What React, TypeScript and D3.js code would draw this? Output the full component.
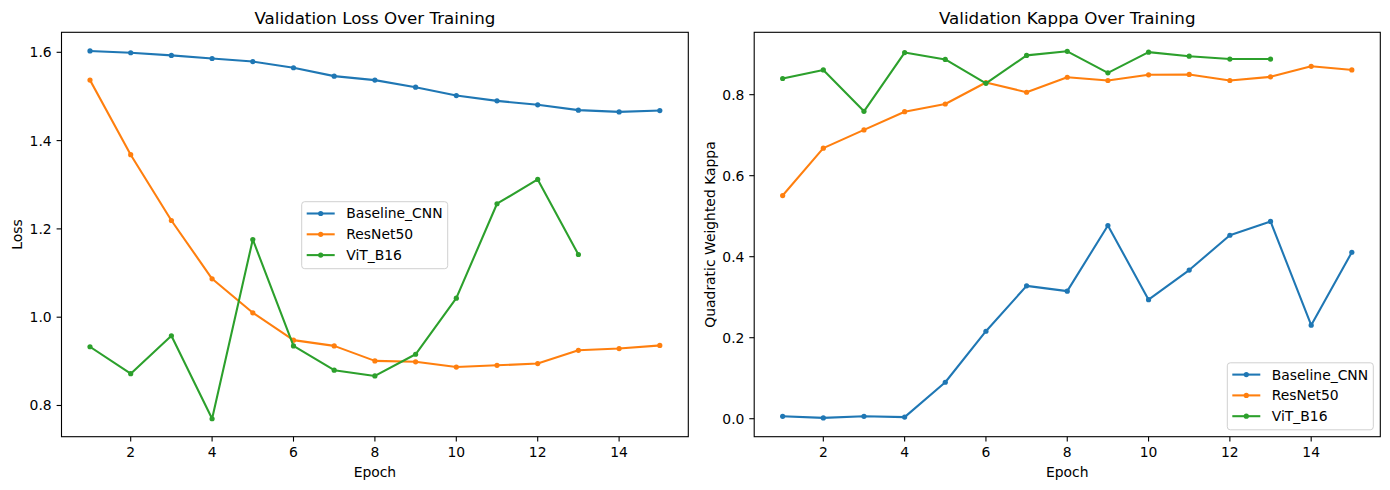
import * as d3 from "d3";
import { useEffect, useRef } from "react";

const epochs = d3.range(1, 16);

const lossBaseline = [1.603, 1.599, 1.593, 1.586, 1.579, 1.565, 1.546, 1.537, 1.521, 1.502, 1.490, 1.481, 1.469, 1.465, 1.468];
const lossResNet = [1.537, 1.368, 1.219, 1.087, 1.010, 0.948, 0.935, 0.901, 0.899, 0.887, 0.891, 0.895, 0.925, 0.929, 0.936];
const lossViT = [0.933, 0.872, 0.958, 0.770, 1.176, 0.935, 0.880, 0.867, 0.916, 1.043, 1.257, 1.312, 1.142];

const kappaBaseline = [0.006, 0.002, 0.006, 0.004, 0.090, 0.216, 0.328, 0.315, 0.477, 0.294, 0.367, 0.453, 0.487, 0.231, 0.411];
const kappaResNet = [0.551, 0.668, 0.713, 0.758, 0.777, 0.830, 0.806, 0.843, 0.835, 0.849, 0.850, 0.835, 0.844, 0.870, 0.861];
const kappaViT = [0.840, 0.861, 0.759, 0.904, 0.887, 0.828, 0.897, 0.907, 0.854, 0.905, 0.895, 0.888, 0.888];

const seriesNames = ["Baseline_CNN", "ResNet50", "ViT_B16"];
const colors = ["#1f77b4", "#ff7f0e", "#2ca02c"];

const lossTicks = [0.8, 1.0, 1.2, 1.4, 1.6];
const kappaTicks = [0.0, 0.2, 0.4, 0.6, 0.8];
const epochTicks = [2, 4, 6, 8, 10, 12, 14];

const W = 1390;
const H = 490;
const FONT = "DejaVu Sans, sans-serif";

interface PanelSpec {
  left: number;
  right: number;
  top: number;
  bottom: number;
  yDomain: [number, number];
  yTicks: number[];
  series: number[][];
  title: string;
  yLabel: string;
  yLabelX: number;
  legend: { x: number; y: number };
}

function drawPanel(svg: d3.Selection<SVGSVGElement, unknown, null, undefined>, p: PanelSpec) {
  const x = d3.scaleLinear().domain([0.3, 15.7]).range([p.left, p.right]);
  const y = d3.scaleLinear().domain(p.yDomain).range([p.bottom, p.top]);
  const g = svg.append("g");

  // lines and markers
  p.series.forEach((vals, i) => {
    const pts = vals.map((v, j) => [epochs[j], v] as [number, number]);
    const line = d3
      .line<[number, number]>()
      .x((d) => x(d[0]))
      .y((d) => y(d[1]));
    g.append("path")
      .attr("d", line(pts))
      .attr("fill", "none")
      .attr("stroke", colors[i])
      .attr("stroke-width", 2.08)
      .attr("stroke-linejoin", "round")
      .attr("stroke-linecap", "square");
    g.selectAll(null)
      .data(pts)
      .join("circle")
      .attr("cx", (d) => x(d[0]))
      .attr("cy", (d) => y(d[1]))
      .attr("r", 2.6)
      .attr("fill", colors[i]);
  });

  // frame
  g.append("rect")
    .attr("x", p.left)
    .attr("y", p.top)
    .attr("width", p.right - p.left)
    .attr("height", p.bottom - p.top)
    .attr("fill", "none")
    .attr("stroke", "#000")
    .attr("stroke-width", 1.1);

  // x ticks
  const xt = g.selectAll(null).data(epochTicks).join("g");
  xt.append("line")
    .attr("x1", (d) => x(d))
    .attr("x2", (d) => x(d))
    .attr("y1", p.bottom)
    .attr("y2", p.bottom + 4.9)
    .attr("stroke", "#000")
    .attr("stroke-width", 1.1);
  xt.append("text")
    .attr("x", (d) => x(d))
    .attr("y", p.bottom + 20.3)
    .attr("text-anchor", "middle")
    .attr("font-size", 13.9)
    .attr("font-family", FONT)
    .text((d) => String(d));

  // y ticks
  const yt = g.selectAll(null).data(p.yTicks).join("g");
  yt.append("line")
    .attr("x1", p.left - 4.9)
    .attr("x2", p.left)
    .attr("y1", (d) => y(d))
    .attr("y2", (d) => y(d))
    .attr("stroke", "#000")
    .attr("stroke-width", 1.1);
  yt.append("text")
    .attr("x", p.left - 9.8)
    .attr("y", (d) => y(d))
    .attr("dy", "0.36em")
    .attr("text-anchor", "end")
    .attr("font-size", 13.9)
    .attr("font-family", FONT)
    .text((d) => d.toFixed(1));

  // labels
  g.append("text")
    .attr("x", (p.left + p.right) / 2)
    .attr("y", 24)
    .attr("text-anchor", "middle")
    .attr("font-size", 16.7)
    .attr("font-family", FONT)
    .text(p.title);
  g.append("text")
    .attr("x", (p.left + p.right) / 2)
    .attr("y", 477)
    .attr("text-anchor", "middle")
    .attr("font-size", 13.9)
    .attr("font-family", FONT)
    .text("Epoch");
  g.append("text")
    .attr("transform", `translate(${p.yLabelX},${(p.top + p.bottom) / 2}) rotate(-90)`)
    .attr("text-anchor", "middle")
    .attr("font-size", 13.9)
    .attr("font-family", FONT)
    .text(p.yLabel);

  // legend
  const lg = g.append("g").attr("transform", `translate(${p.legend.x},${p.legend.y})`);
  lg.append("rect")
    .attr("x", 0)
    .attr("y", 0)
    .attr("width", 146)
    .attr("height", 67)
    .attr("rx", 3)
    .attr("fill", "#fff")
    .attr("fill-opacity", 0.8)
    .attr("stroke", "#d0d0d0")
    .attr("stroke-width", 1);
  seriesNames.forEach((name, i) => {
    const cy = 11.8 + i * 20.8;
    lg.append("line")
      .attr("x1", 5)
      .attr("x2", 33)
      .attr("y1", cy)
      .attr("y2", cy)
      .attr("stroke", colors[i])
      .attr("stroke-width", 2.08);
    lg.append("circle").attr("cx", 19).attr("cy", cy).attr("r", 2.6).attr("fill", colors[i]);
    lg.append("text")
      .attr("x", 44.5)
      .attr("y", cy)
      .attr("dy", "0.36em")
      .attr("font-size", 13.9)
      .attr("font-family", FONT)
      .text(name);
  });
}

export default function App() {
  const ref = useRef<SVGSVGElement>(null);

  useEffect(() => {
    if (!ref.current) return;
    document.body.style.margin = "0";
    const svg = d3.select(ref.current);
    svg.selectAll("*").remove();
    svg.attr("width", W).attr("height", H);
    svg.append("rect").attr("width", W).attr("height", H).attr("fill", "#fff");

    drawPanel(svg, {
      left: 61.5,
      right: 688.3,
      top: 32.3,
      bottom: 436.7,
      yDomain: [0.7293, 1.6453],
      yTicks: lossTicks,
      series: [lossBaseline, lossResNet, lossViT],
      title: "Validation Loss Over Training",
      yLabel: "Loss",
      yLabelX: 22.2,
      legend: { x: 301.7, y: 201.7 },
    });

    drawPanel(svg, {
      left: 754.2,
      right: 1380.3,
      top: 32.3,
      bottom: 436.7,
      yDomain: [-0.0444, 0.954],
      yTicks: kappaTicks,
      series: [kappaBaseline, kappaResNet, kappaViT],
      title: "Validation Kappa Over Training",
      yLabel: "Quadratic Weighted Kappa",
      yLabelX: 714.5,
      legend: { x: 1227.3, y: 362.8 },
    });
  }, []);

  return <svg ref={ref} style={{ display: "block" }} />;
}
